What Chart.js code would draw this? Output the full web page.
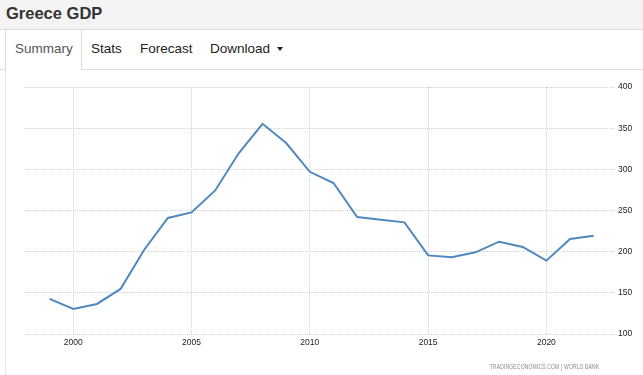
<!DOCTYPE html>
<html>
<head>
<meta charset="utf-8">
<script src="https://cdn.jsdelivr.net/npm/chart.js@4/dist/chart.umd.min.js"></script>
<style>
  html, body { margin:0; padding:0; width:643px; height:375px; overflow:hidden; background:#fff; font-family:"Liberation Sans", Arial, sans-serif; }
  #titlebar { position:absolute; left:0; top:0; width:643px; height:30px; background:#f3f3f3; border-bottom:1px solid #dcdcdc; box-sizing:border-box; }
  #title { position:absolute; left:6px; top:4px; font-size:16.5px; font-weight:bold; color:#333; line-height:18px; }
  .tab { position:absolute; top:41px; font-size:13.5px; color:#222; line-height:16px; white-space:nowrap; }
  #tabline1 { position:absolute; left:0; top:69px; width:5px; height:1px; background:#dcdcdc; }
  #tabline2 { position:absolute; left:82px; top:69px; width:561px; height:1px; background:#dcdcdc; }
  #tabbox { position:absolute; left:5px; top:30px; width:77px; height:40px; border-left:1px solid #dcdcdc; border-right:1px solid #dcdcdc; box-sizing:border-box; }
  #panelleft { position:absolute; left:5px; top:70px; width:1px; height:305px; background:#e6e6e6; }
  #caret { position:absolute; left:277px; top:47px; width:0; height:0; border-left:3.5px solid transparent; border-right:3.5px solid transparent; border-top:4px solid #222; }
  #wrap { position:absolute; left:0; top:70px; width:643px; height:305px; }
  #wm { position:absolute; right:44px; top:363px; font-size:7px; color:#888; letter-spacing:0.2px; white-space:nowrap; transform:scaleX(0.72); transform-origin:right top; }
</style>
</head>
<body>
<div id="titlebar"><div id="title">Greece GDP</div></div>
<div id="tabbox"></div>
<div id="tabline1"></div>
<div id="tabline2"></div>
<div id="panelleft"></div>
<div class="tab" style="left:15px;color:#555;">Summary</div>
<div class="tab" style="left:91px;">Stats</div>
<div class="tab" style="left:140px;">Forecast</div>
<div class="tab" style="left:210px;">Download</div>
<div id="caret"></div>
<div id="wrap"><canvas id="c" width="643" height="305"></canvas></div>
<div id="wm">TRADINGECONOMICS.COM | WORLD BANK</div>
<script>
const years = [1999,2000,2001,2002,2003,2004,2005,2006,2007,2008,2009,2010,2011,2012,2013,2014,2015,2016,2017,2018,2019,2020,2021,2022];
const gdp = [142.6,130.5,136.5,154.7,202.4,240.9,247.7,274.4,319.8,355.3,331.9,297.0,283.4,242.1,238.8,235.6,195.5,193.1,199.2,212.1,205.7,189.1,215.4,219.4];
const xTickLabels = [2000,2005,2010,2015,2020];
const yTickLabels = [100,150,200,250,300,350,400];

const points = years.map((y,i)=>({x:y, y:gdp[i]}));
const tickFont = {family:"Liberation Sans, Arial, sans-serif", size:8.5};

new Chart(document.getElementById('c'), {
  type:'line',
  data:{ datasets:[{ data:points, borderColor:'#4f88c0', borderWidth:2, pointRadius:0, tension:0, fill:false }] },
  options:{
    responsive:false, animation:false, devicePixelRatio:1,
    layout:{ padding:{ left:25, top:17, right:0, bottom:0 } },
    plugins:{ legend:{display:false}, tooltip:{enabled:false} },
    scales:{
      x:{
        type:'linear', min:1997.96, max:2022.9,
        afterBuildTicks: s => { s.ticks = xTickLabels.map(v=>({value:v})); },
        afterFit: s => { s.height = 41; },
        ticks:{ padding:4, font:tickFont, color:'#222', maxRotation:0, autoSkip:false, callback:v=>String(v) },
        grid:{ color:'#d2d2d2', lineWidth:1, drawTicks:false, borderDash:[1,1] },
        border:{ display:false, dash:[1,1] }
      },
      y:{
        position:'right', min:100, max:400,
        afterBuildTicks: s => { s.ticks = yTickLabels.map(v=>({value:v})); },
        afterFit: s => { s.width = 28; },
        ticks:{ padding:3, font:tickFont, color:'#222', callback:v=>String(v) },
        grid:{ color:'#d2d2d2', lineWidth:1, drawTicks:false, borderDash:[1,1] },
        border:{ display:false, dash:[1,1] }
      }
    }
  }
});
</script>
</body>
</html>
